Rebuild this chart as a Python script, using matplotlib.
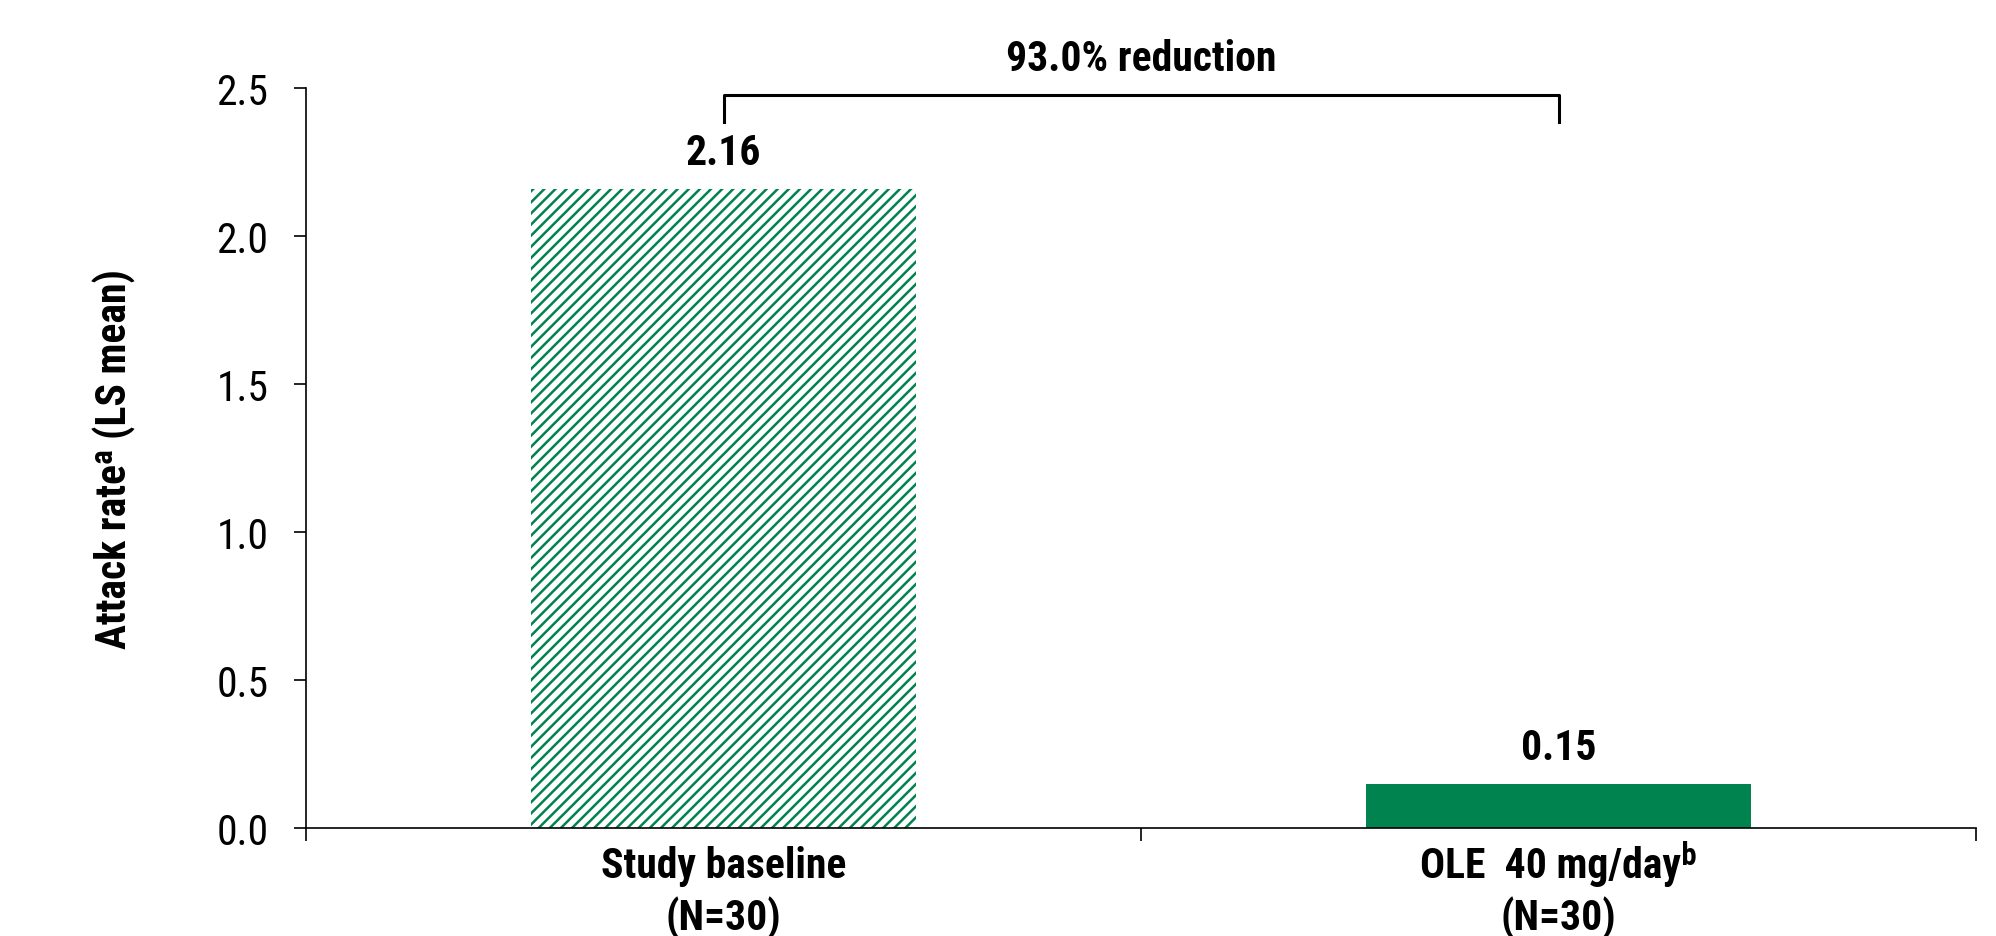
import matplotlib
matplotlib.use('Agg')
import matplotlib.pyplot as plt
from matplotlib import font_manager

# condensed font as in the reference, fall back if missing
names = {f.name for f in font_manager.fontManager.ttflist}
font = 'Roboto Condensed' if 'Roboto Condensed' in names else 'Roboto'

plt.rcParams['font.family'] = [font, 'DejaVu Sans']
plt.rcParams['hatch.linewidth'] = 1.8

# data
categories = ['Study baseline\n(N=30)', 'OLE  40 mg/day\u1d47\n(N=30)']
values = [2.16, 0.15]
value_labels = ['2.16', '0.15']
reduction_label = '93.0% reduction'
y_label = 'Attack rate\u1d43 (LS mean)'

green = '#00834E'

fig = plt.figure(figsize=(19.96, 9.37), dpi=100)
ax = fig.add_axes([306 / 1996, 1 - 829 / 937, (1976 - 306) / 1996, (829 - 89) / 937])

pos = [0.5, 1.5]
ax.bar(pos[0], values[0], width=0.46, color='white', edgecolor=green, hatch='///', linewidth=0)
ax.bar(pos[1], values[1], width=0.46, color=green, linewidth=0)

for x, v, lab in zip(pos, values, value_labels):
    ax.annotate(lab, (x, v), xytext=(0, 11), textcoords='offset points',
                ha='center', va='bottom', fontsize=30, fontweight='bold')

# bracket
ax.plot([pos[0], pos[0], pos[1], pos[1]], [2.385, 2.478, 2.478, 2.385],
        color='black', lw=2.2, clip_on=False)
ax.text(1.0, 2.60, reduction_label, ha='center', va='center', fontsize=30,
        fontweight='bold', clip_on=False)

ax.set_xlim(0, 2)
ax.set_ylim(0, 2.5)
ax.set_yticks([0, 0.5, 1.0, 1.5, 2.0, 2.5])
ax.set_yticklabels(['0.0', '0.5', '1.0', '1.5', '2.0', '2.5'])
ax.set_xticks([0, 1, 2])
ax.set_xticklabels(['', '', ''])
ax.set_xticks(pos, minor=True)
# baseline alignment keeps both labels level despite the superscript glyph
ax.set_xticklabels(categories, minor=True, fontsize=30, fontweight='bold',
                   linespacing=1.3, va='baseline')
ax.tick_params(axis='x', which='minor', length=0, pad=73)
ax.tick_params(axis='x', which='major', length=9, width=1.2, direction='out')
ax.tick_params(axis='y', length=9, width=1.2, labelsize=30, pad=18)

for s in ['top', 'right']:
    ax.spines[s].set_visible(False)
for s in ['left', 'bottom']:
    ax.spines[s].set_linewidth(1.2)

ax.set_ylabel(y_label, fontsize=30, fontweight='bold', labelpad=58)

fig.savefig('out.png', dpi=100)
